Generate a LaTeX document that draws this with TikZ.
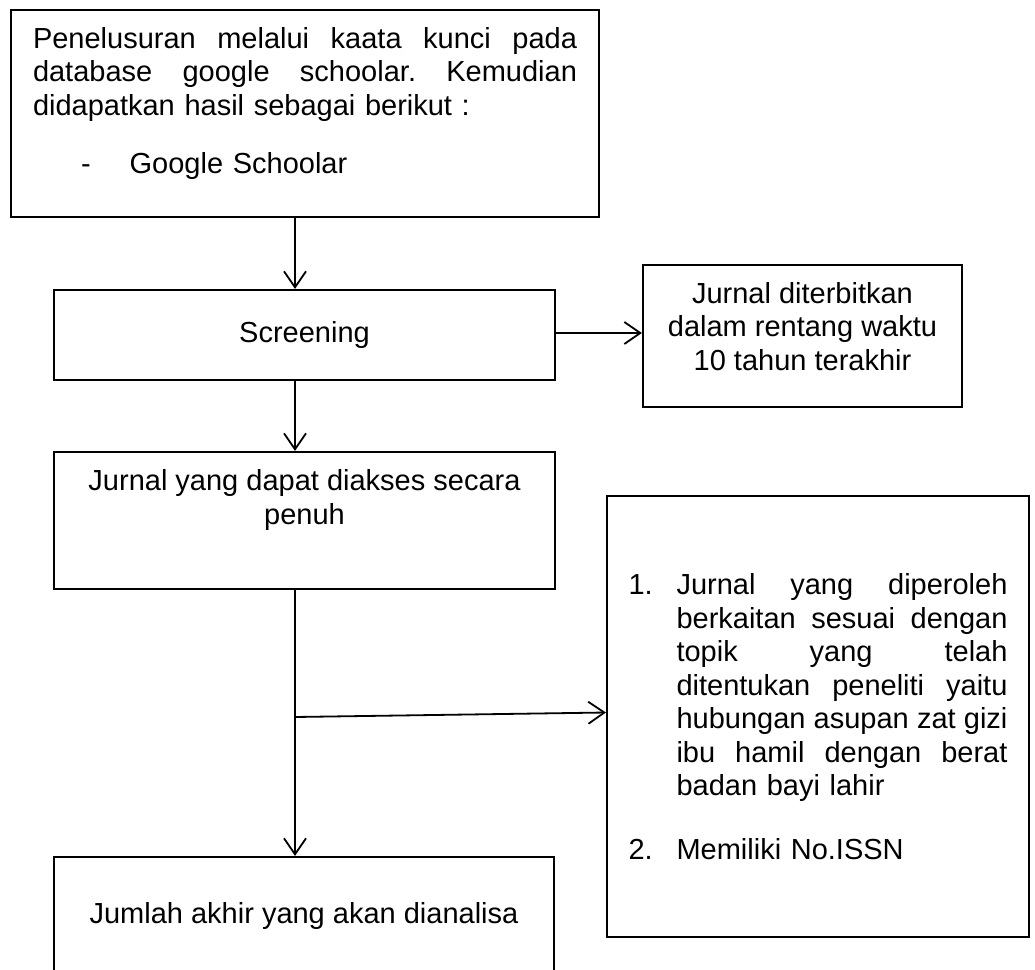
\documentclass[tikz,border=0pt]{standalone}
\usepackage{fontspec}
\setmainfont{Liberation Sans}
\usepackage{tikz}
\usetikzlibrary{arrows.meta, positioning, calc}
\newcommand{\boxfont}{\fontsize{29}{33.5}\selectfont}
\tikzset{
  flowbox/.style={rectangle, draw=black, line width=2.2pt, font=\boxfont, inner sep=0pt},
  flowarrow/.style={line width=1.8pt, -{Straight Barb[length=16pt, width=22pt, line width=1.8pt]}}
}

\begin{document}
\begin{tikzpicture}[x=1pt, y=-1pt]
\useasboundingbox (0,0) rectangle (1035,969);
\coordinate (spine) at (295,0);

\node[flowbox, minimum width=588pt, minimum height=207pt, inner xsep=22pt,
      text width=544pt, align=left] (search) at (305,113.5) {
Penelusuran\hfill melalui\hfill kaata\hfill kunci\hfill pada\\
database\hfill google\hfill schoolar.\hfill Kemudian\\
didapatkan hasil sebagai berikut :\\[24.5pt]
\hspace*{48pt}-\hspace*{39pt}Google Schoolar\rule[-27pt]{0pt}{0pt}
};

\node[flowbox, minimum width=501pt, minimum height=90pt] (screen) at (304.5,335) {Screening};

\node[flowbox, minimum width=319pt, minimum height=142pt, align=center] (period) at (802.5,336) {
Jurnal diterbitkan\\
dalam rentang waktu\\
10 tahun terakhir\rule[-20pt]{0pt}{0pt}
};

\node[flowbox, minimum width=501pt, minimum height=137pt, align=center] (access) at (304.5,520.5) {
Jurnal yang dapat diakses secara\\
penuh\rule[-47pt]{0pt}{0pt}
};

\node[flowbox, minimum width=422pt, minimum height=441pt, inner xsep=21pt,
      text width=379pt, align=left] (criteria) at (818,716.5) {
\makebox[48pt][l]{1.}\parbox[t]{331pt}{Jurnal\hfill yang\hfill diperoleh\\
berkaitan\hfill sesuai\hfill dengan\\
topik\hfill yang\hfill telah\\
ditentukan\hfill peneliti\hfill yaitu\\
hubungan\hfill asupan\hfill zat\hfill gizi\\
ibu\hfill hamil\hfill dengan\hfill berat\\
badan bayi lahir}\\[35.5pt]
\makebox[48pt][l]{2.}Memiliki No.ISSN
};

\node[flowbox, minimum width=500pt, minimum height=118pt] (final) at (304,916) {Jumlah akhir yang akan dianalisa};

% connectors
\coordinate (branch) at (295,717);
\draw[flowarrow] (search.south -| spine) -- (screen.north -| spine);
\draw[flowarrow] ([yshift=2pt]screen.east) -- ([yshift=2pt]screen.east -| period.west);
\draw[flowarrow] (screen.south -| spine) -- (access.north -| spine);
\draw[flowarrow] (access.south -| spine) -- (final.north -| spine);
\draw[flowarrow] (branch) -- ([yshift=4pt]criteria.west);
\end{tikzpicture}
\end{document}
